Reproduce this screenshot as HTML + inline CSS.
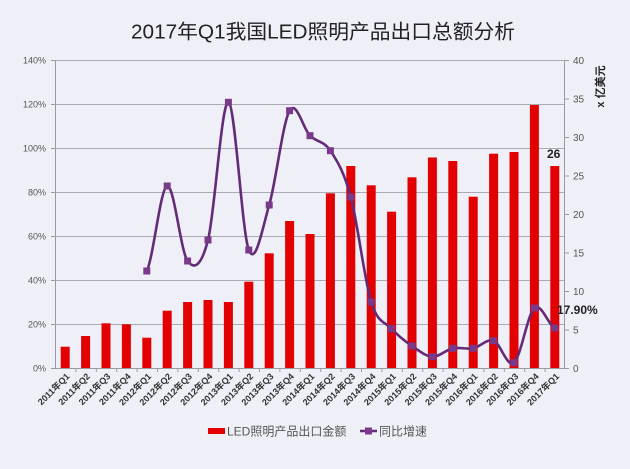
<!DOCTYPE html>
<html>
<head>
<meta charset="utf-8">
<style>
html,body{margin:0;padding:0;background:#eff0f7;}
svg{display:block;}
text{font-family:"Liberation Sans","Noto Sans CJK SC",sans-serif;}
</style>
</head>
<body>
<svg width="630" height="469" viewBox="0 0 630 469" xmlns="http://www.w3.org/2000/svg">
<rect width="630" height="469" fill="#eff0f7"/>
<!-- Title -->
<text x="131" y="38.5" font-size="20" fill="#222" textLength="384" lengthAdjust="spacingAndGlyphs">2017年Q1我国LED照明产品出口总额分析</text>

<!-- gridlines -->
<g stroke="#a9aab3" stroke-width="1">
<line x1="55" y1="60.5" x2="565" y2="60.5"/>
<line x1="55" y1="104.5" x2="565" y2="104.5"/>
<line x1="55" y1="148.5" x2="565" y2="148.5"/>
<line x1="55" y1="192.5" x2="565" y2="192.5"/>
<line x1="55" y1="236.5" x2="565" y2="236.5"/>
<line x1="55" y1="280.5" x2="565" y2="280.5"/>
<line x1="55" y1="324.5" x2="565" y2="324.5"/>
</g>

<!-- left axis labels -->
<g font-size="9" fill="#555" text-anchor="end">
<text x="46" y="63.5">140%</text>
<text x="46" y="107.5">120%</text>
<text x="46" y="151.5">100%</text>
<text x="46" y="195.5">80%</text>
<text x="46" y="239.5">60%</text>
<text x="46" y="283.5">40%</text>
<text x="46" y="327.5">20%</text>
<text x="46" y="371.5">0%</text>
</g>

<!-- right axis labels -->
<g font-size="10" fill="#555">
<text x="573" y="64">40</text>
<text x="573" y="102.5">35</text>
<text x="573" y="141">30</text>
<text x="573" y="179.5">25</text>
<text x="573" y="218">20</text>
<text x="573" y="256.5">15</text>
<text x="573" y="295">10</text>
<text x="573" y="333.5">5</text>
<text x="573" y="372">0</text>
</g>
<text x="0" y="0" font-size="11" font-weight="bold" fill="#222" text-anchor="middle" transform="translate(604,86.5) rotate(-90)">x 亿美元</text>

<!-- bars -->
<g fill="#e30000">
<rect x="60.7" y="346.7" width="9" height="21.3"/>
<rect x="81.1" y="336" width="9" height="32"/>
<rect x="101.5" y="323.3" width="9" height="44.7"/>
<rect x="121.9" y="324.3" width="9" height="43.7"/>
<rect x="142.3" y="337.7" width="9" height="30.3"/>
<rect x="162.7" y="310.7" width="9" height="57.3"/>
<rect x="183.1" y="302" width="9" height="66"/>
<rect x="203.5" y="300" width="9" height="68"/>
<rect x="223.9" y="302" width="9" height="66"/>
<rect x="244.3" y="281.7" width="9" height="86.3"/>
<rect x="264.7" y="253.3" width="9" height="114.7"/>
<rect x="285.1" y="221" width="9" height="147"/>
<rect x="305.5" y="234" width="9" height="134"/>
<rect x="325.9" y="193.3" width="9" height="174.7"/>
<rect x="346.3" y="166" width="9" height="202"/>
<rect x="366.7" y="185.3" width="9" height="182.7"/>
<rect x="387.1" y="211.7" width="9" height="156.3"/>
<rect x="407.5" y="177.3" width="9" height="190.7"/>
<rect x="427.9" y="157.5" width="9" height="210.5"/>
<rect x="448.3" y="161" width="9" height="207"/>
<rect x="468.7" y="196.7" width="9" height="171.3"/>
<rect x="489.1" y="153.7" width="9" height="214.3"/>
<rect x="509.5" y="152" width="9" height="216"/>
<rect x="529.9" y="105" width="9" height="263"/>
<rect x="550.3" y="166" width="9" height="202"/>
</g>

<!-- axes -->
<g stroke="#9a9aa3" stroke-width="1">
<line x1="55.5" y1="60" x2="55.5" y2="368"/>
<line x1="564.5" y1="60" x2="564.5" y2="368"/>
<line x1="55" y1="368.5" x2="565" y2="368.5"/>
</g>
<g stroke="#9a9aa3" stroke-width="1">
<line x1="51" y1="60.5" x2="55" y2="60.5"/>
<line x1="51" y1="104.5" x2="55" y2="104.5"/>
<line x1="51" y1="148.5" x2="55" y2="148.5"/>
<line x1="51" y1="192.5" x2="55" y2="192.5"/>
<line x1="51" y1="236.5" x2="55" y2="236.5"/>
<line x1="51" y1="280.5" x2="55" y2="280.5"/>
<line x1="51" y1="324.5" x2="55" y2="324.5"/>
<line x1="51" y1="368.5" x2="55" y2="368.5"/>
<line x1="565" y1="60.5" x2="569" y2="60.5"/>
<line x1="565" y1="99" x2="569" y2="99"/>
<line x1="565" y1="137.5" x2="569" y2="137.5"/>
<line x1="565" y1="176" x2="569" y2="176"/>
<line x1="565" y1="214.5" x2="569" y2="214.5"/>
<line x1="565" y1="253" x2="569" y2="253"/>
<line x1="565" y1="291.5" x2="569" y2="291.5"/>
<line x1="565" y1="330" x2="569" y2="330"/>
<line x1="565" y1="368.5" x2="569" y2="368.5"/>
</g>
<g stroke="#9a9aa3" stroke-width="1">
<line x1="75.9" y1="368" x2="75.9" y2="372"/>
<line x1="96.3" y1="368" x2="96.3" y2="372"/>
<line x1="116.7" y1="368" x2="116.7" y2="372"/>
<line x1="137.1" y1="368" x2="137.1" y2="372"/>
<line x1="157.5" y1="368" x2="157.5" y2="372"/>
<line x1="177.9" y1="368" x2="177.9" y2="372"/>
<line x1="198.3" y1="368" x2="198.3" y2="372"/>
<line x1="218.7" y1="368" x2="218.7" y2="372"/>
<line x1="239.1" y1="368" x2="239.1" y2="372"/>
<line x1="259.5" y1="368" x2="259.5" y2="372"/>
<line x1="279.9" y1="368" x2="279.9" y2="372"/>
<line x1="300.3" y1="368" x2="300.3" y2="372"/>
<line x1="320.7" y1="368" x2="320.7" y2="372"/>
<line x1="341.1" y1="368" x2="341.1" y2="372"/>
<line x1="361.5" y1="368" x2="361.5" y2="372"/>
<line x1="381.9" y1="368" x2="381.9" y2="372"/>
<line x1="402.3" y1="368" x2="402.3" y2="372"/>
<line x1="422.7" y1="368" x2="422.7" y2="372"/>
<line x1="443.1" y1="368" x2="443.1" y2="372"/>
<line x1="463.5" y1="368" x2="463.5" y2="372"/>
<line x1="483.9" y1="368" x2="483.9" y2="372"/>
<line x1="504.3" y1="368" x2="504.3" y2="372"/>
<line x1="524.7" y1="368" x2="524.7" y2="372"/>
<line x1="545.1" y1="368" x2="545.1" y2="372"/>
</g>

<!-- line series -->
<path d="M146.8,271 C153.6,256.83 160.4,187.67 167.2,186 C174,184.33 180.8,252 187.6,261 C194.4,270 201.2,266.45 208,240 C214.8,213.55 221.6,100.63 228.4,102.3 C235.2,103.97 242,232.88 248.8,250 C255.6,267.12 262.4,228.22 269.2,205 C276,181.78 282.8,122.25 289.6,110.7 C296.4,99.15 303.2,129.03 310,135.7 C316.8,142.37 323.6,140.48 330.4,150.7 C337.2,160.92 344,171.78 350.8,197 C357.6,222.22 364.4,280.05 371.2,302 C378,323.95 384.8,321.37 391.6,328.7 C398.4,336.03 405.2,341.33 412,346 C418.8,350.67 425.6,356.32 432.4,356.7 C439.2,357.08 446,349.7 452.8,348.3 C459.6,346.9 466.4,349.57 473.2,348.3 C480,347.03 486.8,338.3 493.6,340.7 C500.4,343.1 507.2,368.15 514,362.7 C520.8,357.25 527.6,313.78 534.4,308 C541.2,302.22 548,324.67 554.8,328" fill="none" stroke="#632b78" stroke-width="2.6"/>
<g fill="#7a3a8c">
<rect x="143.3" y="267.5" width="7" height="7"/>
<rect x="163.7" y="182.5" width="7" height="7"/>
<rect x="184.1" y="257.5" width="7" height="7"/>
<rect x="204.5" y="236.5" width="7" height="7"/>
<rect x="224.9" y="98.8" width="7" height="7"/>
<rect x="245.3" y="246.5" width="7" height="7"/>
<rect x="265.7" y="201.5" width="7" height="7"/>
<rect x="286.1" y="107.2" width="7" height="7"/>
<rect x="306.5" y="132.2" width="7" height="7"/>
<rect x="326.9" y="147.2" width="7" height="7"/>
<rect x="347.3" y="193.5" width="7" height="7"/>
<rect x="367.7" y="298.5" width="7" height="7"/>
<rect x="388.1" y="325.2" width="7" height="7"/>
<rect x="408.5" y="342.5" width="7" height="7"/>
<rect x="428.9" y="353.2" width="7" height="7"/>
<rect x="449.3" y="344.8" width="7" height="7"/>
<rect x="469.7" y="344.8" width="7" height="7"/>
<rect x="490.1" y="337.2" width="7" height="7"/>
<rect x="510.5" y="359.2" width="7" height="7"/>
<rect x="530.9" y="304.5" width="7" height="7"/>
<rect x="551.3" y="324.5" width="7" height="7"/>
</g>

<!-- data labels -->
<text x="547" y="158" font-size="12" font-weight="bold" fill="#222">26</text>
<text x="557" y="314" font-size="12" font-weight="bold" fill="#222">17.90%</text>

<!-- x labels -->
<g font-size="9" font-weight="bold" fill="#333" text-anchor="end">
<text transform="translate(70.2,377) rotate(-45)">2011年Q1</text>
<text transform="translate(90.6,377) rotate(-45)">2011年Q2</text>
<text transform="translate(111,377) rotate(-45)">2011年Q3</text>
<text transform="translate(131.4,377) rotate(-45)">2011年Q4</text>
<text transform="translate(151.8,377) rotate(-45)">2012年Q1</text>
<text transform="translate(172.2,377) rotate(-45)">2012年Q2</text>
<text transform="translate(192.6,377) rotate(-45)">2012年Q3</text>
<text transform="translate(213,377) rotate(-45)">2012年Q4</text>
<text transform="translate(233.4,377) rotate(-45)">2013年Q1</text>
<text transform="translate(253.8,377) rotate(-45)">2013年Q2</text>
<text transform="translate(274.2,377) rotate(-45)">2013年Q3</text>
<text transform="translate(294.6,377) rotate(-45)">2013年Q4</text>
<text transform="translate(315,377) rotate(-45)">2014年Q1</text>
<text transform="translate(335.4,377) rotate(-45)">2014年Q2</text>
<text transform="translate(355.8,377) rotate(-45)">2014年Q3</text>
<text transform="translate(376.2,377) rotate(-45)">2014年Q4</text>
<text transform="translate(396.6,377) rotate(-45)">2015年Q1</text>
<text transform="translate(417,377) rotate(-45)">2015年Q2</text>
<text transform="translate(437.4,377) rotate(-45)">2015年Q3</text>
<text transform="translate(457.8,377) rotate(-45)">2015年Q4</text>
<text transform="translate(478.2,377) rotate(-45)">2016年Q1</text>
<text transform="translate(498.6,377) rotate(-45)">2016年Q2</text>
<text transform="translate(519,377) rotate(-45)">2016年Q3</text>
<text transform="translate(539.4,377) rotate(-45)">2016年Q4</text>
<text transform="translate(559.8,377) rotate(-45)">2017年Q1</text>
</g>

<!-- legend -->
<rect x="208" y="428" width="17" height="6" fill="#e30000"/>
<text x="227" y="435.5" font-size="12" fill="#555">LED照明产品出口金额</text>
<line x1="360" y1="431" x2="377" y2="431" stroke="#632b78" stroke-width="2.6"/>
<rect x="365" y="427.5" width="7" height="7" fill="#7a3a8c"/>
<text x="379" y="435.5" font-size="12" fill="#555">同比增速</text>
</svg>
</body>
</html>
